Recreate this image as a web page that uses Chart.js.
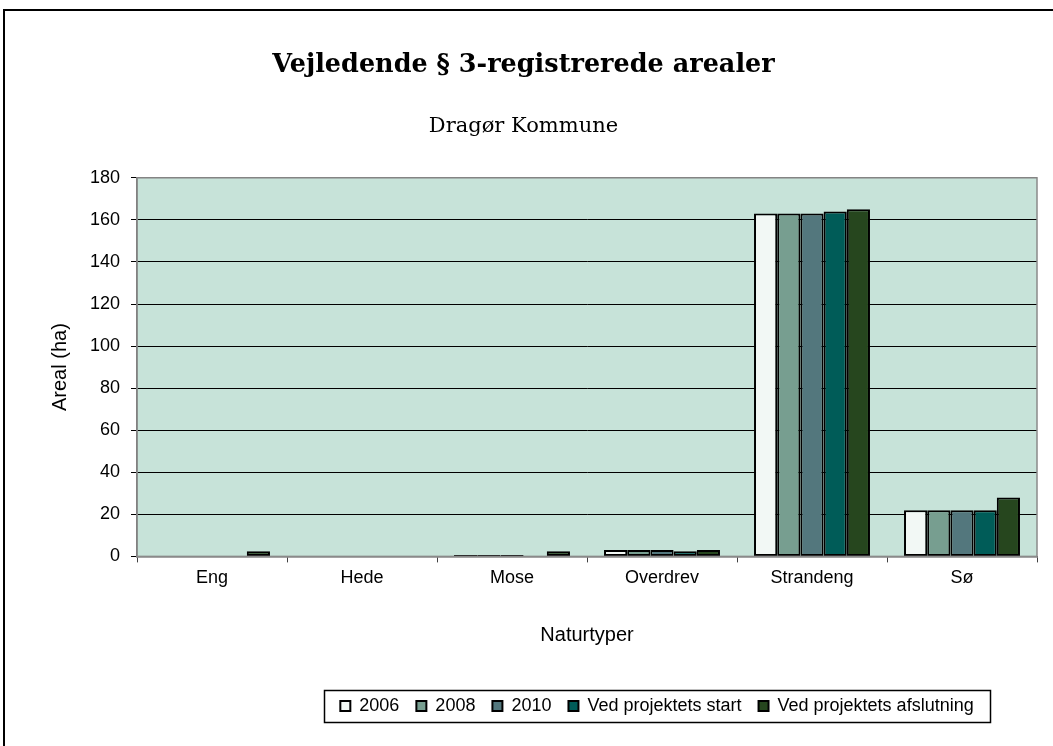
<!DOCTYPE html>
<html>
<head>
<meta charset="utf-8">
<script src="https://cdn.jsdelivr.net/npm/chart.js@4/dist/chart.umd.min.js"></script>
<style>
html,body{margin:0;padding:0;background:#fff;}
#wrap{width:1053px;height:746px;position:relative;}
</style>
</head>
<body>
<div id="wrap"><canvas id="c" width="1053" height="746"></canvas></div>
<script>
const categories = ['Eng', 'Hede', 'Mose', 'Overdrev', 'Strandeng', 'Sø'];
const seriesNames = ['2006', '2008', '2010', 'Ved projektets start', 'Ved projektets afslutning'];
const values2006 = [0, 0, 0.7, 3, 163, 22];
const values2008 = [0, 0, 0.7, 3, 163, 22];
const values2010 = [0, 0, 0.7, 3, 163, 22];
const valuesStart = [0, 0, 0.2, 2.5, 164, 22];
const valuesAfslutning = [2.5, 0, 2.5, 3, 165, 28];
const yMin = 0, yMax = 180, yStep = 20;
const titleText = 'Vejledende § 3-registrerede arealer';
const subtitleText = 'Dragør Kommune';
const xTitle = 'Naturtyper';
const yTitle = 'Areal (ha)';

const colors = ['#F2F8F5', '#779E90', '#53777D', '#005C58', '#26461E'];
const seriesValues = [values2006, values2008, values2010, valuesStart, valuesAfslutning];

const SANS = "'Liberation Sans', Arial, sans-serif";
const SERIF = "'DejaVu Serif', serif";

const deco = {
  id: 'deco',
  beforeDraw(chart) {
    const {ctx, chartArea: a} = chart;
    ctx.save();
    ctx.fillStyle = '#fff';
    ctx.fillRect(0, 0, chart.width, chart.height);
    ctx.fillStyle = '#C7E3D9';
    ctx.fillRect(a.left, a.top, a.right - a.left, a.bottom - a.top);
    ctx.restore();
  },
  afterLayout(chart) {
    const lg = chart.legend;
    if (!lg) return;
    const dx = 657 - (lg.left + lg.right) / 2;
    lg.left += dx;
    lg.right += dx;
  },
  afterDraw(chart) {
    const {ctx, chartArea: a} = chart;
    ctx.save();
    ctx.strokeStyle = '#8a8a8a';
    ctx.lineWidth = 1.5;
    ctx.strokeRect(a.left, a.top, a.right - a.left, a.bottom - a.top);
    ctx.strokeStyle = '#000';
    ctx.lineWidth = 2;
    ctx.strokeRect(4, 10, 1200, 900);
    const lg = chart.legend;
    if (lg && lg.legendHitBoxes && lg.legendHitBoxes.length) {
      const hb = lg.legendHitBoxes;
      let l = Infinity, r = -Infinity, cy = 0;
      hb.forEach(b => { l = Math.min(l, b.left); r = Math.max(r, b.left + b.width); cy = b.top + b.height / 2; });
      ctx.strokeStyle = '#000';
      ctx.lineWidth = 1.5;
      ctx.strokeRect(Math.round(l - 16) + 0.5, Math.round(cy - 16) + 0.5, Math.round(r - l + 33), 32);
    }
    ctx.restore();
  }
};

new Chart(document.getElementById('c'), {
  type: 'bar',
  data: {
    labels: categories,
    datasets: seriesNames.map((name, i) => ({
      label: name,
      data: seriesValues[i],
      backgroundColor: colors[i],
      borderColor: '#000',
      borderWidth: 2,
      borderSkipped: false,
      categoryPercentage: 0.773,
      barPercentage: 1
    }))
  },
  options: {
    responsive: false,
    devicePixelRatio: 1,
    animation: false,
    layout: {padding: {left: 10, right: 16, top: 0, bottom: 21}},
    scales: {
      x: {
        grid: {display: true, drawOnChartArea: false, drawTicks: true, tickLength: 6, color: '#404040', lineWidth: 1},
        border: {display: true, color: '#555', width: 1.5},
        ticks: {color: '#000', padding: 5, font: {family: SANS, size: 18}},
        title: {display: true, text: xTitle, color: '#000', font: {family: SANS, size: 20}, padding: {top: 29, bottom: 33}}
      },
      y: {
        min: yMin, max: yMax,
        afterFit(scale) { scale.width = 127; },
        grid: {color: '#000', lineWidth: 1, tickLength: 6, drawTicks: true},
        border: {display: true, color: '#666', width: 1.5},
        ticks: {stepSize: yStep, color: '#000', padding: 11, font: {family: SANS, size: 18}},
        title: {display: true, text: yTitle, color: '#000', font: {family: SANS, size: 20}, padding: {top: 38, bottom: 0}}
      }
    },
    plugins: {
      title: {display: true, text: titleText, color: '#000', font: {family: SERIF, size: 25.5, weight: 'bold'}, padding: {top: 50, bottom: 0}},
      subtitle: {display: true, text: subtitleText, color: '#000', font: {family: SERIF, size: 21}, padding: {top: 33, bottom: 39}},
      legend: {
        position: 'bottom',
        labels: {color: '#000', boxWidth: 10, boxHeight: 10, padding: 17, font: {family: SANS, size: 18}}
      },
      tooltip: {enabled: false}
    }
  },
  plugins: [deco]
});
</script>
</body>
</html>
